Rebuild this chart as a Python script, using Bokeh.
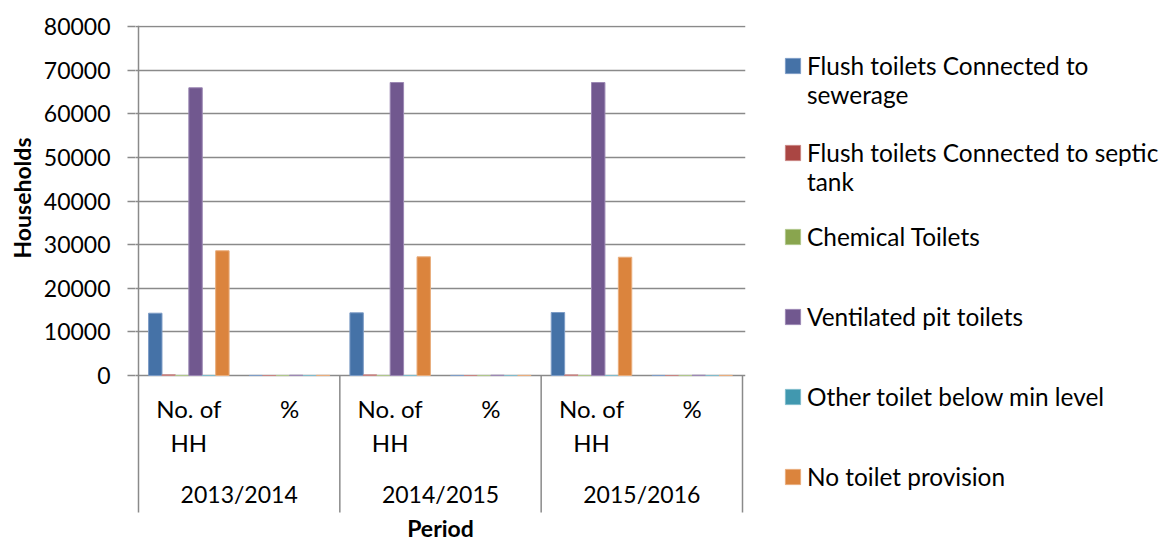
from bokeh.plotting import figure
from bokeh.models import (Range1d, FixedTicker, Legend, LegendItem, Title,
                          NumeralTickFormatter)
from bokeh.core.properties import value
from bokeh.embed import file_html
from bokeh.resources import INLINE

# ---------------- data ----------------
periods = ["2013/2014", "2014/2015", "2015/2016"]
measures = ["No. of\nHH", "%"]
legend_labels = [
    "\nFlush toilets Connected to\nsewerage",
    "\nFlush toilets Connected to septic\ntank",
    "Chemical Toilets",
    "Ventilated pit toilets",
    "Other toilet below min level",
    "No toilet provision",
]
colors = ["#4572A7", "#AA4643", "#89A54E", "#71588F", "#4198AF", "#DB843D"]
edge_colors = ["#7d9cc6", "#c98482", "#b0c78b", "#9c88b4", "#80bccc", "#e9ad7c"]

# values per category: (2013/14 No. of HH, 2013/14 %, 2014/15 No., 2014/15 %, 2015/16 No., 2015/16 %)
flush_sewerage = [14280, 13.1, 14370, 13.2, 14440, 13.3]
flush_septic = [150, 0.1, 140, 0.1, 140, 0.1]
chemical = [0, 0, 0, 0, 0, 0]
ventilated_pit = [65950, 60.5, 67160, 61.7, 67160, 61.7]
other_below_min = [0, 0, 0, 0, 0, 0]
no_toilet = [28590, 26.2, 27200, 25.0, 27110, 24.9]
series = [flush_sewerage, flush_septic, chemical, ventilated_pit, other_below_min, no_toilet]

y_ticks = [0, 10000, 20000, 30000, 40000, 50000, 60000, 70000, 80000]
y_title = "Households"
x_title = "Period"

# ---------------- layout constants ----------------
FONT = "Lato"
GRID = "#8a8a8a"
UNIT = 80000 / 349.0          # data units per pixel (vertical)
XU = 6 / 604.0                 # data units per pixel (horizontal)
Y_TOP = 80000 + 1 * UNIT
Y_BOTTOM = -167 * UNIT
N_CAT = len(periods) * len(measures)
BAR_W = 1 / 7.5

p = figure(frame_width=610, frame_height=517,
           min_border_left=134, min_border_right=417,
           min_border_top=25, min_border_bottom=0,
           x_range=Range1d(-3 * XU, N_CAT + 3 * XU),
           y_range=Range1d(Y_BOTTOM, Y_TOP),
           x_axis_location=None,
           output_backend="svg", toolbar_location=None)
p.outline_line_color = None
p.background_fill_color = "white"
p.border_fill_color = "white"

# y axis
yax = p.yaxis[0]
yax.ticker = FixedTicker(ticks=y_ticks)
yax.formatter = NumeralTickFormatter(format="0")
yax.axis_line_color = None
yax.major_tick_in = 0
yax.major_tick_out = 8
yax.major_tick_line_color = GRID
yax.major_tick_line_width = 1.5
yax.minor_tick_line_color = None
yax.major_label_standoff = 17
yax.major_label_text_font = FONT
yax.major_label_text_font_size = "23px"
yax.major_label_text_color = "black"

p.xgrid.visible = False
p.ygrid.ticker = FixedTicker(ticks=y_ticks)
p.ygrid.grid_line_color = GRID
p.ygrid.grid_line_width = 1.5

p.add_layout(Title(text=y_title, align="right", offset=112,
                   text_font=FONT, text_font_style="bold",
                   text_font_size="23px", text_color="black"), "left")

# separators (left axis line + group boundaries)
sep_x = [2 * g for g in range(len(periods) + 1)]
sep_y0 = [Y_TOP] + [0] * len(periods)
SEP_END = -137 * UNIT
p.segment(x0=sep_x, y0=sep_y0, x1=sep_x, y1=[SEP_END] * len(sep_x),
          line_color=GRID, line_width=1.5)

# bars
items = []
for j, vals in enumerate(series):
    xs = [k + 0.5 + (j - 2.5) * BAR_W for k in range(N_CAT)]
    r = p.vbar(x=xs, top=vals, bottom=0, width=BAR_W,
               fill_color=colors[j], line_color=edge_colors[j], line_width=1)
    items.append(LegendItem(label=legend_labels[j], renderers=[r]))

# category labels
p.text(x=[k + 0.5 for k in range(N_CAT)], y=[-18 * UNIT] * N_CAT,
       text=[measures[k % 2] for k in range(N_CAT)],
       text_font=value(FONT), text_font_size="24px", text_color="black",
       text_align="center", text_baseline="top", text_line_height=1.2)
p.text(x=[2 * g + 1 for g in range(len(periods))], y=[-118 * UNIT] * len(periods),
       text=periods, text_font=value(FONT), text_font_size="23px",
       text_color="black", text_align="center", text_baseline="middle")
p.text(x=[N_CAT / 2], y=[-166.5 * UNIT], text=[x_title],
       text_font=value(FONT), text_font_size="23px", text_font_style="bold",
       text_color="black", text_align="center", text_baseline="bottom")

legend = Legend(items=items, location=(38, 26), orientation="vertical",
                border_line_color=None, background_fill_alpha=0,
                padding=0, margin=0, spacing=0,
                glyph_width=19, glyph_height=19, label_standoff=5,
                label_height=80,
                label_text_font=FONT, label_text_font_size="24.4px",
                label_text_color="black", label_text_line_height=1.06)
p.add_layout(legend, "right")

open("out.html", "w").write(file_html(p, INLINE))
